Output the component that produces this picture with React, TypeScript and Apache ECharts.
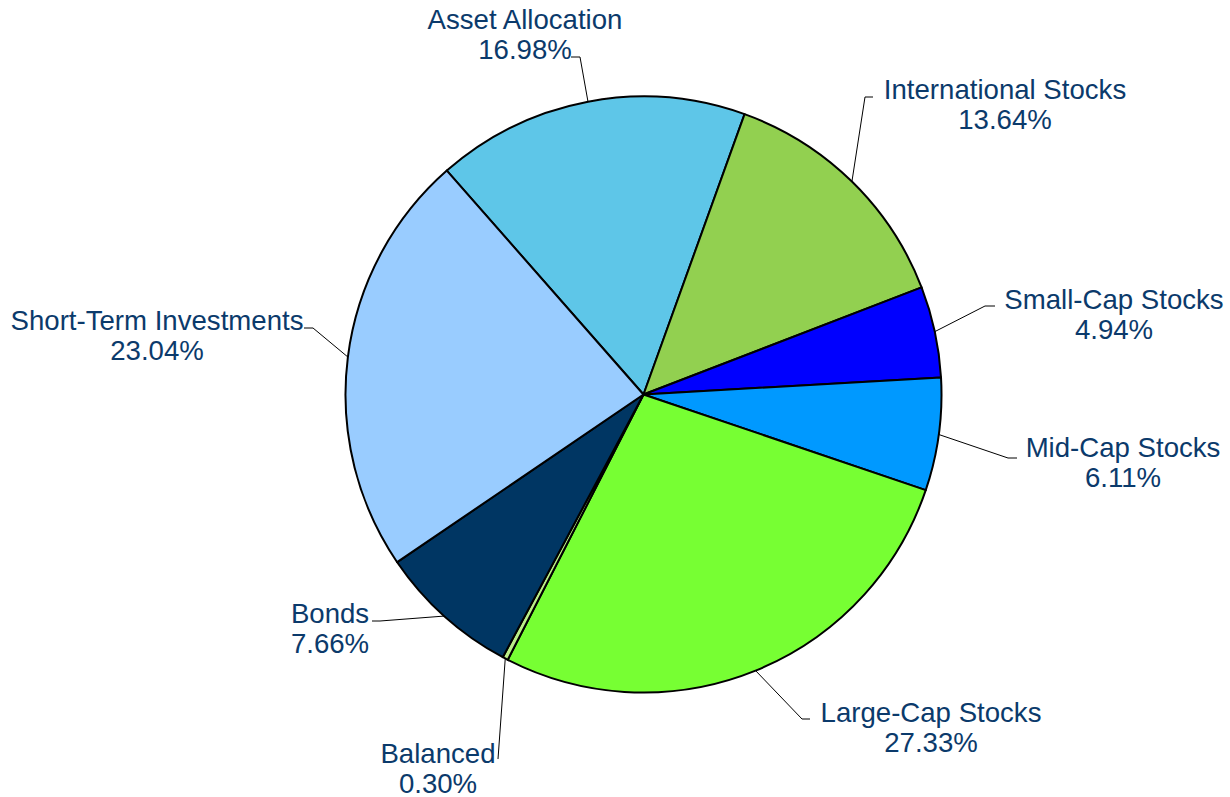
import React, { useEffect, useRef } from "react";
import * as echarts from "echarts";

const categories = [
  "Asset Allocation",
  "International Stocks",
  "Small-Cap Stocks",
  "Mid-Cap Stocks",
  "Large-Cap Stocks",
  "Balanced",
  "Bonds",
  "Short-Term Investments",
];
const shares = [16.98, 13.64, 4.94, 6.11, 27.33, 0.3, 7.66, 23.04];
const colors = ["#5ec6e8", "#92d050", "#0000ff", "#0099ff", "#77ff33", "#bbee88", "#003663", "#99ccff"];

// label placement: label centre (cx, cy), knee of leader line (kx, ky), end x of the short tail
const labelPlacement = [
  { cx: 525, cy: 34, kx: 580, ky: 57, ex: 571 },
  { cx: 1005, cy: 104, kx: 865, ky: 97, ex: 873 },
  { cx: 1114, cy: 314, kx: 985, ky: 306, ex: 995 },
  { cx: 1123, cy: 462, kx: 1008, ky: 458, ex: 1017 },
  { cx: 931, cy: 727, kx: 802, ky: 719, ex: 810 },
  { cx: 438, cy: 768, kx: 498, ky: 759, ex: 498 },
  { cx: 330, cy: 628, kx: 380, ky: 621, ex: 372 },
  { cx: 157, cy: 335, kx: 313, ky: 328, ex: 304 },
];

export default function App() {
  const ref = useRef<HTMLDivElement>(null);
  useEffect(() => {
    if (!ref.current) return;
    const chart = echarts.init(ref.current, undefined, { renderer: "svg" });
    chart.setOption({
      animation: false,
      backgroundColor: "#ffffff",
      series: [
        {
          type: "pie",
          center: [643.5, 394.5],
          radius: [0, 298],
          startAngle: 131.3,
          clockwise: true,
          avoidLabelOverlap: false,
          data: categories.map((name, i) => ({
            name,
            value: shares[i],
            itemStyle: { color: colors[i] },
          })),
          itemStyle: { borderColor: "#000000", borderWidth: 2 },
          label: {
            show: true,
            position: "outside",
            formatter: (p: any) => `${p.name}\n${Number(p.value).toFixed(2)}%`,
            color: "#0b3a6b",
            fontFamily: "Liberation Sans, Arial, sans-serif",
            fontSize: 27.6,
            lineHeight: 30,
            align: "center",
          },
          labelLine: {
            show: true,
            length: 20,
            length2: 10,
            lineStyle: { color: "#000000", width: 1 },
          },
          labelLayout: (params: any) => {
            const L = labelPlacement[params.dataIndex];
            const p0 = params.labelLinePoints ? params.labelLinePoints[0] : [L.kx, L.ky];
            return {
              x: L.cx,
              y: L.cy,
              align: "center",
              verticalAlign: "middle",
              labelLinePoints: [p0, [L.kx, L.ky], [L.ex, L.ky]],
            };
          },
          emphasis: { disabled: true },
        },
      ],
    });
    return () => chart.dispose();
  }, []);
  return (
    <div
      ref={ref}
      style={{ position: "fixed", left: 0, top: 0, width: 1230, height: 797 }}
    />
  );
}
